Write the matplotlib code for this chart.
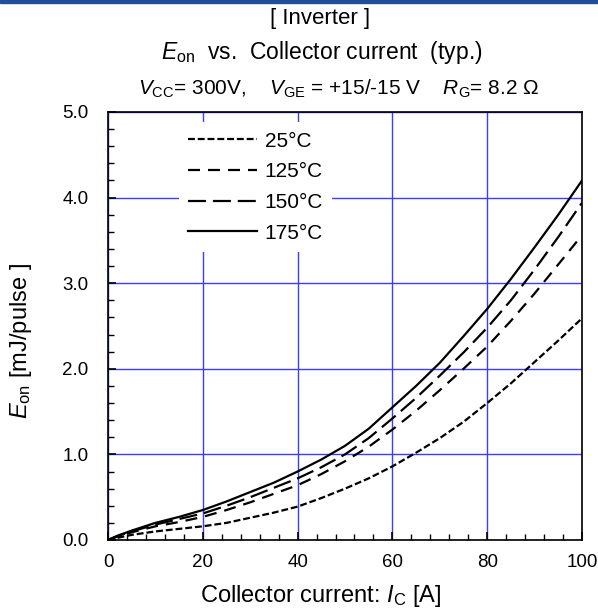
import matplotlib
matplotlib.use("Agg")
import matplotlib.pyplot as plt
from matplotlib.ticker import MultipleLocator, FormatStrFormatter
from matplotlib.patches import Rectangle

plt.rcParams['font.family'] = ['Liberation Sans', 'DejaVu Sans']
plt.rcParams['mathtext.fontset'] = 'custom'
plt.rcParams['mathtext.rm'] = 'Liberation Sans'
plt.rcParams['mathtext.it'] = 'Liberation Sans:italic'

current = [0, 2, 5, 10, 15, 20, 25, 30, 35, 40, 45, 50, 55, 60, 65, 70, 75, 80, 85, 90, 95, 100]
eon_175 = [0, 0.05, 0.11, 0.20, 0.27, 0.35, 0.45, 0.56, 0.67, 0.80, 0.94, 1.10, 1.30, 1.55, 1.80, 2.07, 2.38, 2.70, 3.05, 3.42, 3.80, 4.20]
eon_150 = [0, 0.045, 0.10, 0.18, 0.245, 0.31, 0.40, 0.50, 0.61, 0.72, 0.85, 1.00, 1.19, 1.42, 1.66, 1.92, 2.19, 2.48, 2.80, 3.16, 3.54, 3.94]
eon_125 = [0, 0.04, 0.09, 0.16, 0.21, 0.27, 0.35, 0.44, 0.54, 0.64, 0.77, 0.92, 1.09, 1.29, 1.51, 1.75, 2.00, 2.26, 2.56, 2.88, 3.22, 3.56]
eon_25 = [0, 0.025, 0.06, 0.10, 0.13, 0.16, 0.20, 0.26, 0.32, 0.39, 0.49, 0.60, 0.72, 0.86, 1.02, 1.19, 1.38, 1.60, 1.83, 2.08, 2.33, 2.59]
labels = ['25°C', '125°C', '150°C', '175°C']

W, H = 598, 612
fig = plt.figure(figsize=(W / 100, H / 100), dpi=100)
ax = fig.add_axes([108 / W, 72 / H, 474 / W, 428 / H])

fig.patches.append(Rectangle((0, 1 - 3 / H), 1, 3 / H, transform=fig.transFigure,
                             color='#1f4e9a', zorder=0))

lw = 1.6
styles = [(0, (3.1, 1.3)), (0, (5.4, 3.6)), (0, (8.1, 3.1)), '-']
series = [eon_25, eon_125, eon_150, eon_175]
for s, ls, lab in zip(series, styles, labels):
    ax.plot(current, s, color='black', lw=lw, linestyle=ls, label=lab, zorder=3)

ax.set_xlim(0, 100)
ax.set_ylim(0, 5.0)
ax.xaxis.set_major_locator(MultipleLocator(20))
ax.xaxis.set_minor_locator(MultipleLocator(4))
ax.yaxis.set_major_locator(MultipleLocator(1.0))
ax.yaxis.set_minor_locator(MultipleLocator(0.2))
ax.yaxis.set_major_formatter(FormatStrFormatter('%.1f'))
ax.tick_params(which='both', direction='in', top=False, right=False, labelsize=13.5, colors='black')
ax.tick_params(which='major', length=6, width=1.2)
ax.tick_params(which='minor', length=4, width=1.0)
ax.tick_params(axis='x', which='major', pad=10)
ax.tick_params(axis='y', which='major', pad=14)
ax.grid(True, which='major', color='#3c3cff', lw=1.0, zorder=1)
for sp in ax.spines.values():
    sp.set_linewidth(1.2)

leg = ax.legend(loc='upper left', bbox_to_anchor=(0.15, 0.976), frameon=True, fontsize=15,
                handlelength=3.3, handletextpad=0.35, labelspacing=0.56, borderpad=0.45,
                borderaxespad=0)
leg.get_frame().set_edgecolor('none')
leg.get_frame().set_facecolor('white')
leg.get_frame().set_alpha(1.0)
leg.set_zorder(2)

fig.text(321 / W, 1 - 596 / H, r'Collector current: $\mathit{I}_{\mathrm{C}}$ [A]',
         ha='center', va='center', fontsize=17)
fig.text(21 / W, 1 - 341 / H, r'$\mathit{E}_{\mathrm{on}}$ [mJ/pulse ]', rotation=90,
         ha='center', va='center', fontsize=17)

fig.text(320 / W, 1 - 24 / H, '[ Inverter ]', ha='center', va='baseline', fontsize=16)
fig.text(322 / W, 1 - 59 / H, r'$\mathit{E}_{\mathrm{on}}$  vs.  Collector current  (typ.)',
         ha='center', va='baseline', fontsize=16.5)
fig.text(540 / W, 1 - 95 / H,
         r'$\mathit{V}_{\mathrm{CC}}$= 300V,    $\mathit{V}_{\mathrm{GE}}$ = +15/-15 V    $\mathit{R}_{\mathrm{G}}$= 8.2 Ω',
         ha='right', va='baseline', fontsize=15)

fig.savefig('out.png', dpi=100)
